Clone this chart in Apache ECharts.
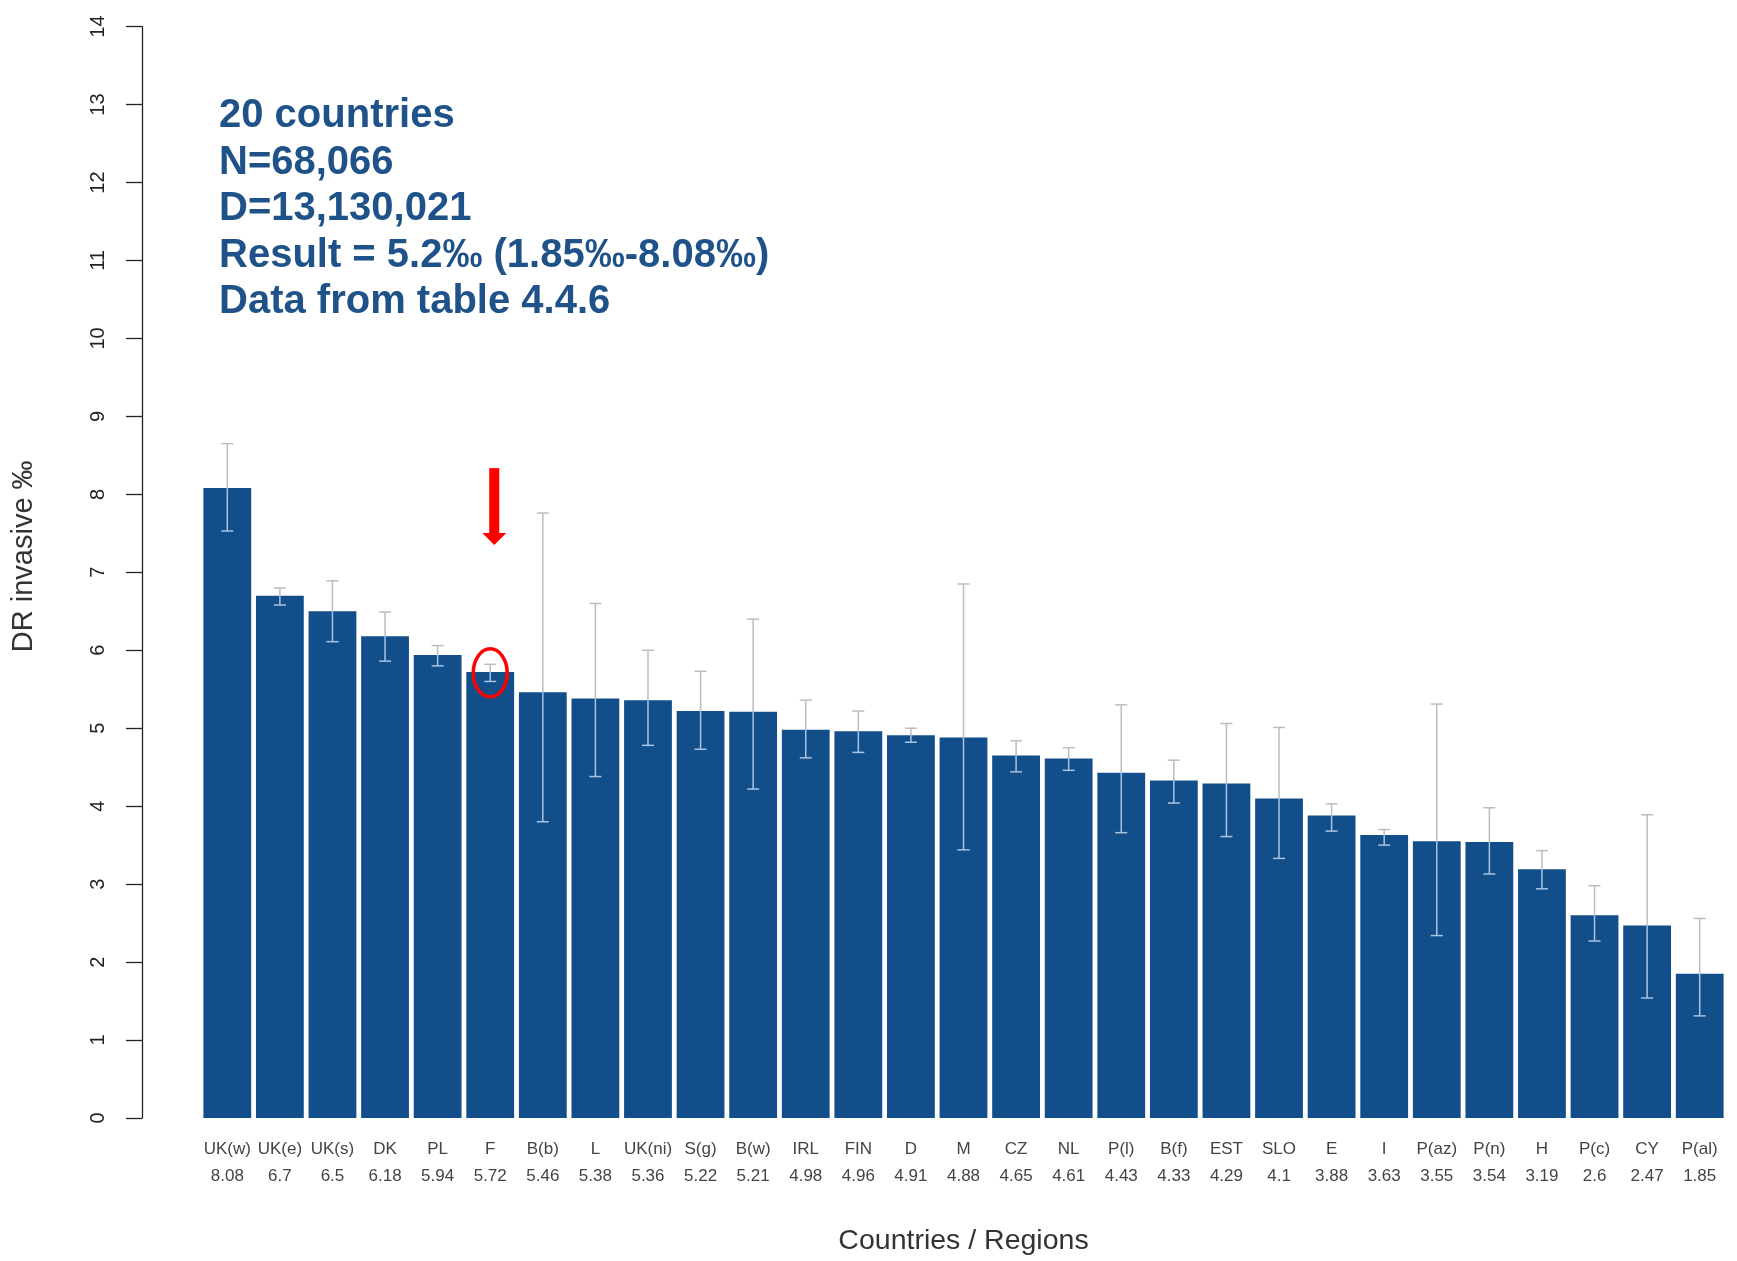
<!DOCTYPE html>
<html>
<head>
<meta charset="utf-8">
<script src="https://cdn.jsdelivr.net/npm/echarts@6/dist/echarts.min.js"></script>
<style>
html,body{margin:0;padding:0;background:#fff;}
#chart{width:1737px;height:1261px;}
</style>
</head>
<body>
<div id="chart"></div>
<script>
const categories = ['UK(w)','UK(e)','UK(s)','DK','PL','F','B(b)','L','UK(ni)','S(g)','B(w)','IRL','FIN','D','M','CZ','NL','P(l)','B(f)','EST','SLO','E','I','P(az)','P(n)','H','P(c)','CY','P(al)'];
const values = [8.08,6.7,6.5,6.18,5.94,5.72,5.46,5.38,5.36,5.22,5.21,4.98,4.96,4.91,4.88,4.65,4.61,4.43,4.33,4.29,4.1,3.88,3.63,3.55,3.54,3.19,2.6,2.47,1.85];
const lower = [7.53,6.58,6.11,5.86,5.80,5.60,3.80,4.38,4.78,4.73,4.22,4.62,4.69,4.82,3.44,4.44,4.46,3.66,4.04,3.61,3.33,3.68,3.50,2.34,3.13,2.94,2.27,1.54,1.31];
const upper = [8.65,6.80,6.89,6.49,6.06,5.82,7.76,6.60,6.00,5.73,6.40,5.36,5.22,5.00,6.85,4.84,4.75,5.30,4.59,5.06,5.01,4.03,3.70,5.31,3.98,3.43,2.98,3.89,2.56];
const yTicks = [0,1,2,3,4,5,6,7,8,9,10,11,12,13,14];
const infoLines = ['20 countries','N=68,066','D=13,130,021','Result = 5.2\u2030 (1.85\u2030-8.08\u2030)','Data from table 4.4.6'];
const highlighted = 'F';

const FONT = '"Liberation Sans", Arial, Helvetica, sans-serif';
const BAR = '#124f8a';
const chart = echarts.init(document.getElementById('chart'));

const errData = categories.map((c, i) => [i, lower[i], upper[i], values[i]]);

function renderErr(params, api) {
  const i = api.value(0), lo = api.value(1), hi = api.value(2), v = api.value(3);
  const x = api.coord([i, v])[0];
  const yv = api.coord([i, v])[1];
  const yl = api.coord([i, lo])[1];
  const yh = api.coord([i, hi])[1];
  const grey = '#bdbdbd', light = '#a9c3e2', hw = 6, lw = 1.5;
  const kids = [];
  if (hi > v) kids.push({type:'line', shape:{x1:x,y1:yh,x2:x,y2:Math.min(yv, yl)}, style:{stroke:grey,lineWidth:lw}});
  if (lo < v) kids.push({type:'line', shape:{x1:x,y1:Math.max(yv, yh),x2:x,y2:yl}, style:{stroke:light,lineWidth:lw}});
  kids.push({type:'line', shape:{x1:x-hw,y1:yh,x2:x+hw,y2:yh}, style:{stroke: hi > v ? grey : light, lineWidth:lw}});
  kids.push({type:'line', shape:{x1:x-hw,y1:yl,x2:x+hw,y2:yl}, style:{stroke: lo > v ? grey : light, lineWidth:lw}});
  return {type:'group', children:kids};
}

const option = {
  backgroundColor:'#fff',
  animation:false,
  textStyle:{fontFamily:FONT},
  grid:{left:201, right:11, top:26.6, bottom:134},
  xAxis:{
    type:'category',
    data:categories,
    axisLine:{show:false},
    axisTick:{show:false},
    axisLabel:{
      interval:0, margin:18, color:'#444', fontSize:17, lineHeight:27, fontFamily:FONT,
      formatter:(val, idx) => val + '\n' + values[idx]
    },
    name:'Countries / Regions',
    nameLocation:'middle',
    nameGap:109,
    nameTextStyle:{fontSize:28.5, color:'#333', fontFamily:FONT}
  },
  yAxis:{
    type:'value',
    min:0, max:14, interval:1,
    offset:59,
    axisLine:{show:true, lineStyle:{color:'#222', width:1.3}},
    axisTick:{show:true, length:16, lineStyle:{color:'#222', width:1.3}},
    splitLine:{show:false},
    axisLabel:{rotate:90, margin:34, fontSize:20, color:'#222', fontFamily:FONT,
      formatter:(v) => yTicks.indexOf(v) >= 0 ? String(v) : ''},
    name:'DR invasive \u2030',
    nameLocation:'middle',
    nameGap:104,
    nameRotate:90,
    nameTextStyle:{fontSize:29, color:'#333', fontFamily:FONT, padding:[0,0,0,32]}
  },
  series:[
    {type:'bar', data:values, barCategoryGap:'9.1%', itemStyle:{color:BAR}, z:2},
    {type:'custom', data:errData, renderItem:renderErr, encode:{x:0, y:[1,2]}, z:3}
  ]
};
chart.setOption(option);

const gfx = infoLines.map((t, k) => ({
  type:'text', left:219, top: 96 + k*46.5, z:100,
  style:{text:t, font:'bold 40px ' + FONT, fill:'#1f5289'}
}));
const fi = categories.indexOf(highlighted);
const pBar = chart.convertToPixel({xAxisIndex:0, yAxisIndex:0}, [fi, values[fi]]);
const pMid = chart.convertToPixel({xAxisIndex:0, yAxisIndex:0}, [fi, (lower[fi] + upper[fi]) / 2]);
const ax = pBar[0] + 4, tipY = pBar[1] - 127, topY = pBar[1] - 204;
gfx.push({type:'rect', z:100, shape:{x:ax-5, y:topY, width:10, height:(tipY - 12) - topY}, style:{fill:'#ff0000'}});
gfx.push({type:'polygon', z:100, shape:{points:[[ax-12, tipY-12],[ax+12, tipY-12],[ax, tipY]]}, style:{fill:'#ff0000'}});
gfx.push({type:'ellipse', z:100, shape:{cx:pMid[0], cy:pMid[1], rx:17, ry:24}, style:{fill:'none', stroke:'#ff0000', lineWidth:3.5}});
chart.setOption({graphic:gfx});
</script>
</body>
</html>
